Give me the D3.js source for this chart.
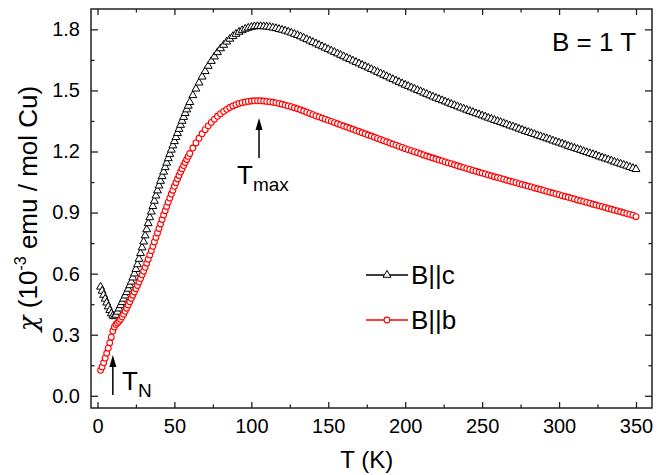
<!DOCTYPE html>
<html>
<head>
<meta charset="utf-8">
<script src="https://cdn.jsdelivr.net/npm/d3@7"></script>
<style>
  body { margin: 0; background: #fff; }
  text { font-family: "Liberation Sans", Arial, sans-serif; fill: #000; }
</style>
</head>
<body>
<svg id="chart" width="670" height="475"></svg>
<script>
// Temperature sweep (K): 1 K steps up to 60 K, 2 K steps above
const temps = [
  2,3,4,5,6,7,8,9,10,11,12,13,14,15,16,17,18,19,20,21,22,23,24,25,26,27,28,29,30,
  31,32,33,34,35,36,37,38,39,40,41,42,43,44,45,46,47,48,49,50,51,52,53,54,55,56,57,58,59,60,
  62,64,66,68,70,72,74,76,78,80,82,84,86,88,90,92,94,96,98,100,
  102,104,106,108,110,112,114,116,118,120,122,124,126,128,130,132,134,136,138,140,
  142,144,146,148,150,152,154,156,158,160,162,164,166,168,170,172,174,176,178,180,
  182,184,186,188,190,192,194,196,198,200,202,204,206,208,210,212,214,216,218,220,
  222,224,226,228,230,232,234,236,238,240,242,244,246,248,250,252,254,256,258,260,
  262,264,266,268,270,272,274,276,278,280,282,284,286,288,290,292,294,296,298,300,
  302,304,306,308,310,312,314,316,318,320,322,324,326,328,330,332,334,336,338,340,
  342,344,346,348,350
];

// Susceptibility, field along c (10^-3 emu / mol Cu)
const chiBc = [
  0.535,0.515,0.495,0.476,0.457,0.438,0.420,0.404,0.393,0.390,0.397,0.412,0.428,0.444,0.460,
  0.476,0.492,0.508,0.525,0.542,0.560,0.580,0.600,0.622,0.645,0.672,0.700,0.728,0.757,
  0.787,0.817,0.847,0.876,0.904,0.931,0.957,0.983,1.008,1.032,1.055,1.078,1.100,1.122,1.144,
  1.166,1.187,1.208,1.229,1.250,1.270,1.290,1.310,1.330,1.350,1.369,1.388,1.406,1.424,1.442,
  1.476,1.508,1.538,1.567,1.594,1.620,1.644,1.666,1.687,1.706,1.723,1.739,1.753,1.766,1.777,
  1.787,1.795,1.802,1.807,1.811,1.814,1.815,1.815,1.814,1.813,1.811,1.808,1.805,1.801,1.797,
  1.793,1.788,1.783,1.777,1.771,1.765,1.758,1.751,1.744,1.737,1.730,1.723,1.716,1.709,1.702,
  1.695,1.688,1.681,1.674,1.667,1.660,1.653,1.646,1.639,1.632,1.625,1.618,1.611,1.604,1.597,
  1.590,1.583,1.576,1.569,1.562,1.555,1.548,1.541,1.534,1.527,
  1.521,1.514,1.508,1.501,1.495,1.488,1.482,1.475,1.469,1.463,1.457,1.451,1.445,1.439,1.433,
  1.427,1.421,1.415,1.410,1.404,
  1.398,1.393,1.387,1.382,1.376,1.371,1.365,1.360,1.354,1.349,
  1.344,1.338,1.333,1.327,1.322,1.317,1.311,1.306,1.300,1.295,
  1.290,1.285,1.279,1.274,1.269,1.264,1.259,1.253,1.248,1.243,1.238,1.233,1.227,1.222,1.217,
  1.212,1.207,1.201,1.196,1.191,1.186,1.181,1.175,1.170,1.165,1.160,1.155,1.149,1.144,1.139,
  1.134,1.129,1.123,1.118,1.113
];

// Susceptibility, field along b (10^-3 emu / mol Cu)
const chiBb = [
  0.125,0.142,0.162,0.185,0.209,0.234,0.260,0.288,0.318,0.338,0.350,0.358,0.366,0.376,0.388,
  0.401,0.415,0.430,0.446,0.462,0.478,0.494,0.510,0.526,0.542,0.559,0.576,0.594,0.612,
  0.631,0.651,0.671,0.692,0.713,0.734,0.756,0.778,0.800,0.822,0.844,0.866,0.888,0.909,0.930,
  0.951,0.971,0.991,1.010,1.029,1.047,1.065,1.082,1.099,1.115,1.131,1.146,1.161,1.176,1.190,
  1.217,1.242,1.265,1.287,1.307,1.326,1.343,1.359,1.373,1.386,1.397,1.407,1.416,1.424,1.430,
  1.436,1.440,1.443,1.446,1.448,1.449,1.449,1.449,1.448,1.446,
  1.444,1.442,1.439,1.436,1.432,1.428,1.424,1.420,1.415,1.410,1.405,1.399,1.393,1.387,1.381,
  1.375,1.370,1.364,1.359,1.353,1.348,1.342,1.336,1.331,1.325,1.320,1.314,1.309,1.303,1.298,
  1.292,1.287,1.281,1.276,1.270,1.264,1.259,1.253,1.248,1.242,1.236,1.231,1.225,1.220,1.214,
  1.209,1.204,1.199,1.194,1.189,1.183,1.178,1.173,1.168,1.163,1.158,1.154,1.149,1.144,1.140,
  1.135,1.130,1.125,1.121,1.116,
  1.112,1.107,1.103,1.098,1.094,1.090,1.085,1.081,1.076,1.072,1.068,1.064,1.059,1.055,1.051,
  1.047,1.042,1.038,1.034,1.030,
  1.026,1.021,1.017,1.013,1.009,1.004,1.000,0.996,0.992,0.988,0.983,0.979,0.975,0.971,0.967,
  0.962,0.958,0.954,0.950,0.946,0.941,0.937,0.933,0.929,0.925,0.920,0.916,0.912,0.908,0.904,
  0.899,0.895,0.891,0.887,0.880
];

const xTickValues = [0, 50, 100, 150, 200, 250, 300, 350];
const xMinorValues = [25, 75, 125, 175, 225, 275, 325];
const yTickValues = [0.0, 0.3, 0.6, 0.9, 1.2, 1.5, 1.8];
const yMinorValues = [0.15, 0.45, 0.75, 1.05, 1.35, 1.65];

const seriesNames = ["B||c", "B||b"];
const TmaxT = 105;   // temperature of the susceptibility maximum
const TNeel = 10;    // Néel temperature

const svg = d3.select("#chart");
const frame = { left: 91, right: 652, top: 9, bottom: 408 };

const x = d3.scaleLinear().domain([-4.2, 360.4]).range([frame.left, frame.right]);
const y = d3.scaleLinear().domain([-0.06, 1.9]).range([frame.bottom, frame.top]);

const axisColor = "#222";

// Axes: ticks point inward on all four sides, labels on left and bottom only
function styleAxis(g) {
  g.select(".domain").remove();
  g.selectAll(".tick line").attr("stroke", axisColor).attr("stroke-width", 1.3);
}
function styleLabels(g) {
  g.selectAll("text").attr("font-size", 20).attr("font-family", "Liberation Sans, Arial, sans-serif").attr("fill", "#000");
}

svg.append("g").attr("transform", `translate(0,${frame.bottom})`)
  .call(d3.axisBottom(x).tickValues(xTickValues).tickSize(-6).tickPadding(11).tickFormat(d3.format("d")))
  .call(styleAxis).call(styleLabels);
svg.append("g").attr("transform", `translate(0,${frame.bottom})`)
  .call(d3.axisBottom(x).tickValues(xMinorValues).tickSize(-3.5).tickFormat(""))
  .call(styleAxis);
svg.append("g").attr("transform", `translate(0,${frame.top})`)
  .call(d3.axisTop(x).tickValues(xTickValues).tickSize(-6).tickFormat(""))
  .call(styleAxis);
svg.append("g").attr("transform", `translate(0,${frame.top})`)
  .call(d3.axisTop(x).tickValues(xMinorValues).tickSize(-3.5).tickFormat(""))
  .call(styleAxis);

svg.append("g").attr("transform", `translate(${frame.left},0)`)
  .call(d3.axisLeft(y).tickValues(yTickValues).tickSize(-7).tickPadding(11).tickFormat(d3.format(".1f")))
  .call(styleAxis).call(styleLabels);
svg.append("g").attr("transform", `translate(${frame.left},0)`)
  .call(d3.axisLeft(y).tickValues(yMinorValues).tickSize(-3.5).tickFormat(""))
  .call(styleAxis);
svg.append("g").attr("transform", `translate(${frame.right},0)`)
  .call(d3.axisRight(y).tickValues(yTickValues).tickSize(-7).tickFormat(""))
  .call(styleAxis);
svg.append("g").attr("transform", `translate(${frame.right},0)`)
  .call(d3.axisRight(y).tickValues(yMinorValues).tickSize(-3.5).tickFormat(""))
  .call(styleAxis);

svg.append("rect")
  .attr("x", frame.left).attr("y", frame.top)
  .attr("width", frame.right - frame.left).attr("height", frame.bottom - frame.top)
  .attr("fill", "none").attr("stroke", axisColor).attr("stroke-width", 1.5);

// Axis titles
svg.append("text")
  .attr("x", (x(0) + x(350)) / 2).attr("y", 468)
  .attr("text-anchor", "middle").attr("font-size", 24)
  .text("T (K)");

const yTitle = svg.append("text")
  .attr("transform", `translate(37,${(frame.top + frame.bottom) / 2}) rotate(-90)`)
  .attr("text-anchor", "middle").attr("font-size", 26);
yTitle.append("tspan").attr("font-family", "DejaVu Serif, serif").attr("font-style", "italic").text("\u03C7");
yTitle.append("tspan").text(" (10");
yTitle.append("tspan").attr("font-size", 16).attr("dy", -11).text("-3");
yTitle.append("tspan").attr("dy", 11).text(" emu / mol Cu)");

// Data markers
const dataC = temps.map((t, i) => ({ t, v: chiBc[i] }));
const dataB = temps.map((t, i) => ({ t, v: chiBb[i] }));

const tri = d3.symbol().type(d3.symbolTriangle).size(27);

svg.append("g").selectAll("path").data(dataC).join("path")
  .attr("d", tri)
  .attr("transform", d => `translate(${x(d.t)},${y(d.v)})`)
  .attr("fill", "#fff").attr("stroke", "#000").attr("stroke-width", 1);

svg.append("g").selectAll("circle").data(dataB).join("circle")
  .attr("cx", d => x(d.t)).attr("cy", d => y(d.v)).attr("r", 2.9)
  .attr("fill", "#fff").attr("stroke", "#ff0000").attr("stroke-width", 1.1);

// Legend
const legend = svg.append("g");
const legY = [275, 320];
const legColors = ["#000", "#ff0000"];
legY.forEach((ly, i) => {
  legend.append("line").attr("x1", 366).attr("x2", 408).attr("y1", ly).attr("y2", ly)
    .attr("stroke", legColors[i]).attr("stroke-width", 1.5);
  legend.append("text").attr("x", 411).attr("y", ly + 9).attr("font-size", 26).text(seriesNames[i]);
});
legend.append("path").attr("d", tri).attr("transform", `translate(387,${legY[0]})`)
  .attr("fill", "#fff").attr("stroke", "#000").attr("stroke-width", 1);
legend.append("circle").attr("cx", 387).attr("cy", legY[1]).attr("r", 2.9)
  .attr("fill", "#fff").attr("stroke", "#ff0000").attr("stroke-width", 1.1);

// Field label
svg.append("text").attr("x", 552).attr("y", 51).attr("font-size", 26).text("B = 1 T");

// Arrows marking T_max and T_N
function arrow(x0, yTail, yTip) {
  svg.append("line").attr("x1", x0).attr("x2", x0).attr("y1", yTail).attr("y2", yTip + 8)
    .attr("stroke", "#000").attr("stroke-width", 1.5);
  svg.append("path")
    .attr("d", `M${x0},${yTip} L${x0 - 3.5},${yTip + 12} L${x0 + 3.5},${yTip + 12} Z`)
    .attr("fill", "#000");
}
arrow(x(TmaxT), 158, 118);
arrow(x(TNeel), 395, 355);

const tmax = svg.append("text").attr("x", 237).attr("y", 184).attr("font-size", 26);
tmax.append("tspan").text("T");
tmax.append("tspan").attr("font-size", 19).attr("dy", 7).text("max");

const tn = svg.append("text").attr("x", 122).attr("y", 390).attr("font-size", 26);
tn.append("tspan").text("T");
tn.append("tspan").attr("font-size", 19).attr("dy", 7).text("N");
</script>
</body>
</html>
